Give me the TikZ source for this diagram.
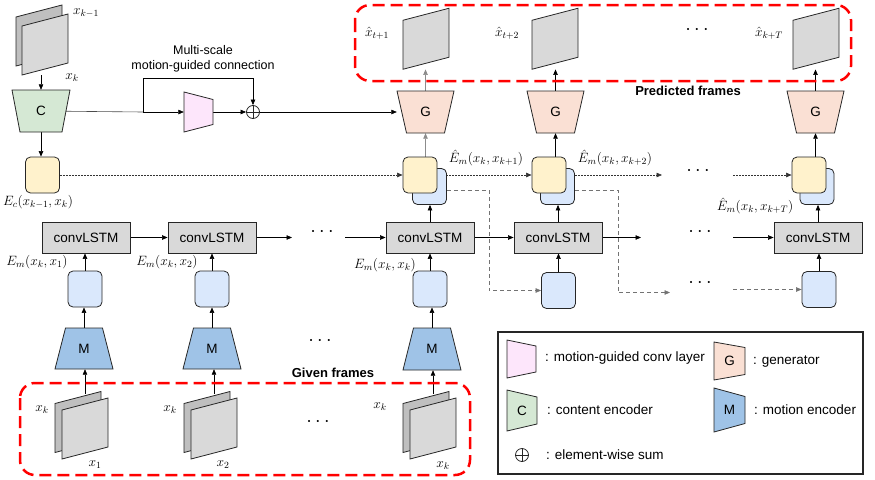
\RequirePackage{fix-cm}
\documentclass[tikz,border=0pt]{standalone}
\usepackage{fontspec}
\setmainfont{Liberation Sans}
\usetikzlibrary{arrows.meta,backgrounds}
\definecolor{cgreen}{HTML}{D5E8D4}
\definecolor{cpink}{HTML}{FDE6FB}
\definecolor{corange}{HTML}{FAE0D4}
\definecolor{cblue}{HTML}{9FC3E7}
\definecolor{cyellow}{HTML}{FFF2CC}
\definecolor{clblue}{HTML}{DAE8FC}
\definecolor{cgray}{HTML}{D9D9D9}
\definecolor{cdgray}{HTML}{BFBFBF}
\definecolor{cred}{HTML}{FF0000}
\tikzset{
  shp/.style={draw=black!85, line width=0.8pt},
  rbox/.style={draw=black!85, line width=0.8pt, rounded corners=5pt, minimum width=34pt, minimum height=36pt, inner sep=0},
  lstm/.style={draw=black!85, line width=0.8pt, fill=cgray, minimum width=88pt, minimum height=31pt, inner sep=0, font=\fontsize{13.5}{16}\selectfont},
  arr/.style={-{Triangle[length=5.5pt,width=4.5pt]}, line width=0.6pt},
  dotl/.style={dash pattern=on 1.6pt off 1.4pt, line width=0.6pt, draw=black!80},
  gdash/.style={dash pattern=on 4pt off 3pt, line width=0.6pt, draw=black!55},
  reddash/.style={draw=cred, line width=2.5pt, dash pattern=on 12pt off 6pt, rounded corners=15pt},
  lbl/.style={font=\fontsize{13.5}{16}\selectfont, inner sep=0},
  mlbl/.style={font=\fontsize{13.5}{15}\selectfont, inner sep=0},
  dotsl/.style={font=\fontsize{20}{22}\selectfont, inner sep=0},
  bld/.style={font=\bfseries\fontsize{13}{15}\selectfont, inner sep=0},
  frm/.style={minimum width=46pt, minimum height=61pt, inner sep=0}
}
% vertical trapezoid: name, cx, cy, top width, bottom width, height, fill, label
\newcommand{\trapV}[8]{%
  \draw[shp,fill=#7] (#2-#4/2,#3-#6/2) -- (#2+#4/2,#3-#6/2) -- (#2+#5/2,#3+#6/2) -- (#2-#5/2,#3+#6/2) -- cycle;
  \node[lbl, minimum width={max(#4,#5)*1pt}, minimum height=#6pt] (#1) at (#2,#3) {#8};}
% horizontal trapezoid: name, cx, cy, left height, right height, width, fill, label
\newcommand{\trapH}[8]{%
  \draw[shp,fill=#7] (#2-#6/2,#3-#4/2) -- (#2+#6/2,#3-#5/2) -- (#2+#6/2,#3+#5/2) -- (#2-#6/2,#3+#4/2) -- cycle;
  \node[lbl, minimum width=#6pt, minimum height={max(#4,#5)*1pt}] (#1) at (#2,#3) {#8};}
% frame parallelogram: cx, cy, fill
\newcommand{\pfr}[3]{%
  \draw[shp,fill=#3] (#1-23,#2-18.5) -- (#1-23,#2+30.5) -- (#1+23,#2+18.5) -- (#1+23,#2-30.5) -- cycle;}
% element-wise sum: name, x, y
\newcommand{\osum}[3]{%
  \node[draw=black!85, circle, minimum size=13pt, inner sep=0, line width=0.8pt] (#1) at (#2,#3) {};
  \draw[line width=0.8pt, black!85] (#1.north) -- (#1.south) (#1.west) -- (#1.east);}
\begin{document}
\begin{tikzpicture}[x=1pt,y=-1pt]
\useasboundingbox (0,0) rectangle (875,479);

% red dashed groups
\draw[reddash] (355,5) rectangle (851,81);
\draw[reddash] (20,383) rectangle (470,475);

% top-left input frames
\pfr{39}{35.5}{cdgray}
\pfr{45}{44.5}{cgray}
\node[mlbl] (lxk1) at (86,13) {$x_{k-1}$};
\node[mlbl] (lxk0) at (72,78) {$x_k$};
\coordinate (s0) at (41,75);

% content encoder
\trapV{C}{41}{111}{58}{42}{42}{cgreen}{C}
\node[rbox, fill=cyellow] (Ec) at (42.5,175) {};
\node[mlbl] (lEc) at (38,202) {$E_c(x_{k-1},x_k)$};

% motion-guided connection
\trapH{Pk}{198.5}{112}{40}{25}{29}{cpink}{}
\osum{sum}{253}{112}
\coordinate (br) at (143,112);
\coordinate (brtop) at (143,78);
\node[font=\fontsize{12.5}{15}\selectfont, align=center, inner sep=0] (ms) at (203,59) {Multi-scale\\motion-guided connection};

% predicted frames
\pfr{426}{38.75}{cgray}
\pfr{555}{38.75}{cgray}
\pfr{816}{38.75}{cgray}
\node[frm] (F1) at (426,38.75) {};
\node[frm] (F2) at (555,38.75) {};
\node[frm] (F3) at (816,38.75) {};
\node[mlbl] (lf1) at (377,33) {$\hat{x}_{t+1}$};
\node[mlbl] (lf2) at (507,33) {$\hat{x}_{t+2}$};
\node[mlbl] (lf3) at (769,33) {$\hat{x}_{k+T}$};
\node[dotsl] (dt0) at (697,30) {$\cdots$};
\node[bld] (pf) at (688,91) {Predicted frames};

% generators
\trapV{G1}{425.5}{112}{57}{38}{42}{corange}{G}
\trapV{G2}{555.5}{112}{57}{38}{42}{corange}{G}
\trapV{G3}{815.5}{112}{57}{38}{42}{corange}{G}

% stacked feature boxes
\node[rbox, fill=clblue] (Bs1) at (429.5,186.5) {};
\node[rbox, fill=cyellow] (Y1) at (420,175) {};
\node[rbox, fill=clblue] (Bs2) at (557.5,186.5) {};
\node[rbox, fill=cyellow] (Y2) at (549,175) {};
\node[rbox, fill=clblue] (Bs3) at (817,186.5) {};
\node[rbox, fill=cyellow] (Y3) at (809,175) {};
\node[mlbl] (le1) at (486,158) {$\hat{E}_m(x_k,x_{k+1})$};
\node[mlbl] (le2) at (615,158) {$\hat{E}_m(x_k,x_{k+2})$};
\node[mlbl] (le3) at (755,206) {$\hat{E}_m(x_k,x_{k+T})$};
\node[dotsl] (dt1) at (698,171) {$\cdots$};

% convLSTM row
\node[lstm] (CL1) at (86,237.5) {convLSTM};
\node[lstm] (CL2) at (212,237.5) {convLSTM};
\node[lstm] (CL3) at (430,237.5) {convLSTM};
\node[lstm] (CL4) at (558,237.5) {convLSTM};
\node[lstm] (CL5) at (818,237.5) {convLSTM};
\node[dotsl] (dt2) at (322,232) {$\cdots$};
\node[dotsl] (dt3) at (700,232) {$\cdots$};
\coordinate (c1) at (292,237.5);
\coordinate (c2) at (345,237.5);
\coordinate (c3) at (641,237.5);
\coordinate (c4) at (733,237.5);
\node[mlbl] (lm1) at (37,262) {$E_m(x_k,x_1)$};
\node[mlbl] (lm2) at (167,262) {$E_m(x_k,x_2)$};
\node[mlbl] (lm3) at (385,265) {$E_m(x_k,x_k)$};

% motion features
\node[rbox, fill=clblue] (B1) at (85,289) {};
\node[rbox, fill=clblue] (B2) at (212,289) {};
\node[rbox, fill=clblue] (B3) at (430,289) {};
\node[rbox, fill=clblue] (B4) at (558.5,290.5) {};
\node[rbox, fill=clblue] (B5) at (819,289.5) {};
\node[dotsl] (dt4) at (700,283) {$\cdots$};
\coordinate (c5) at (670,292.5);
\coordinate (c6) at (733,289.5);
\coordinate (dY) at (662,175);
\coordinate (dY2) at (733,175);

% motion encoders
\trapV{M1}{84}{348.5}{37}{58}{41}{cblue}{M}
\trapV{M2}{212}{348.5}{37}{58}{41}{cblue}{M}
\trapV{M3}{432}{349}{37}{58}{42}{cblue}{M}
\node[dotsl] (dt5) at (320,341) {$\cdots$};

% given frames
\node[bld] (gf) at (333,373) {Given frames};
\pfr{78}{422}{cdgray}
\pfr{85}{428.5}{cgray}
\pfr{207}{422}{cdgray}
\pfr{214}{428.5}{cgray}
\pfr{426}{422}{cdgray}
\pfr{433}{428.5}{cgray}
\coordinate (st1) at (85,394);
\coordinate (st2) at (214,394);
\coordinate (st3) at (433,394);
\node[mlbl] (g1a) at (42,410) {$x_k$};
\node[mlbl] (g1b) at (95,465) {$x_1$};
\node[mlbl] (g2a) at (170,410) {$x_k$};
\node[mlbl] (g2b) at (223,465) {$x_2$};
\node[mlbl] (g3a) at (380,407) {$x_k$};
\node[mlbl] (g3b) at (443,466) {$x_k$};
\node[dotsl] (dt6) at (318,422) {$\cdots$};

% legend
\draw[line width=1.2pt, black!85] (498,332) rectangle (863,474);
\trapH{LP}{521.5}{359}{38}{26}{29}{cpink}{}
\node[lbl, anchor=west] (tLP) at (545,358) {: motion-guided conv layer};
\trapH{LG}{729.5}{361}{38}{27}{31}{corange}{G}
\node[lbl, anchor=west] (tLG) at (753,362) {: generator};
\trapH{LC}{522}{410.5}{41}{27}{30}{cgreen}{C}
\node[lbl, anchor=west] (tLC) at (547,410) {: content encoder};
\trapH{LM}{729.5}{410}{44}{27}{31}{cblue}{M}
\node[lbl, anchor=west] (tLM) at (754,410) {: motion encoder};
\osum{Lsum}{522}{455}
\node[lbl, anchor=west] (tLS) at (546,455) {: element-wise sum};

% connectors
\begin{pgfonlayer}{background}
\draw[arr] (s0) -- (s0 |- C.north);
\draw[arr] (C.south) -- (C.south |- Ec.north);
\draw[line width=0.6pt, black!70] (C.center) -- (br);
\draw[arr] (br) -- (Pk.west);
\draw[arr] (br) -- (brtop) -| (sum.north);
\draw[arr] (Pk.east) -- (sum.west);
\draw[arr] (sum.east) -- (G1.west);
\draw[arr,dotl] (Ec.east) -- (Y1.west);
\draw[arr,dotl] (Y1.east) -- (Y2.west);
\draw[arr,dotl] (Y2.east) -- (dY);
\draw[arr,dotl] (dY2) -- (Y3.west);
\draw[arr, black!45] (Y1.north -| G1.south) -- (G1.south);
\draw[arr] (Y2.north -| G2.south) -- (G2.south);
\draw[arr] (Y3.north -| G3.south) -- (G3.south);
\draw[arr, black!45] (G1.north) -- (G1.north |- F1.south);
\draw[arr] (G2.north) -- (G2.north |- F2.south);
\draw[arr] (G3.north) -- (G3.north |- F3.south);
\draw[arr] (CL1.east) -- (CL2.west);
\draw[arr] (CL2.east) -- (c1);
\draw[arr] (c2) -- (CL3.west);
\draw[arr] (CL3.east) -- (CL4.west);
\draw[arr] (CL4.east) -- (c3);
\draw[arr] (c4) -- (CL5.west);
\draw[arr] (CL3.north) -- (CL3.north |- Bs1.south);
\draw[arr] (CL4.north) -- (CL4.north |- Bs2.south);
\draw[arr] (CL5.north) -- (CL5.north |- Bs3.south);
\draw[arr] (B1.north) -- (B1.north |- CL1.south);
\draw[arr] (B2.north) -- (B2.north |- CL2.south);
\draw[arr] (B3.north) -- (B3.north |- CL3.south);
\draw[arr] (B4.north) -- (B4.north |- CL4.south);
\draw[arr] (B5.north) -- (B5.north |- CL5.south);
\draw[arr] (M1.north) -- (M1.north |- B1.south);
\draw[arr] (M2.north) -- (M2.north |- B2.south);
\draw[arr] (M3.north) -- (M3.north |- B3.south);
\draw[arr] (st1) -- (st1 |- M1.south);
\draw[arr] (st2) -- (st2 |- M2.south);
\draw[arr] (st3) -- (st3 |- M3.south);
\draw[arr,gdash] ([yshift=-3.5pt]Bs1.east) -- ++(42,0) |- (B4.west);
\draw[arr,gdash] ([yshift=-3.5pt]Bs2.east) -- ++(43,0) |- (c5);
\draw[arr,gdash] (c6) -- (B5.west);
\end{pgfonlayer}
\end{tikzpicture}
\end{document}
